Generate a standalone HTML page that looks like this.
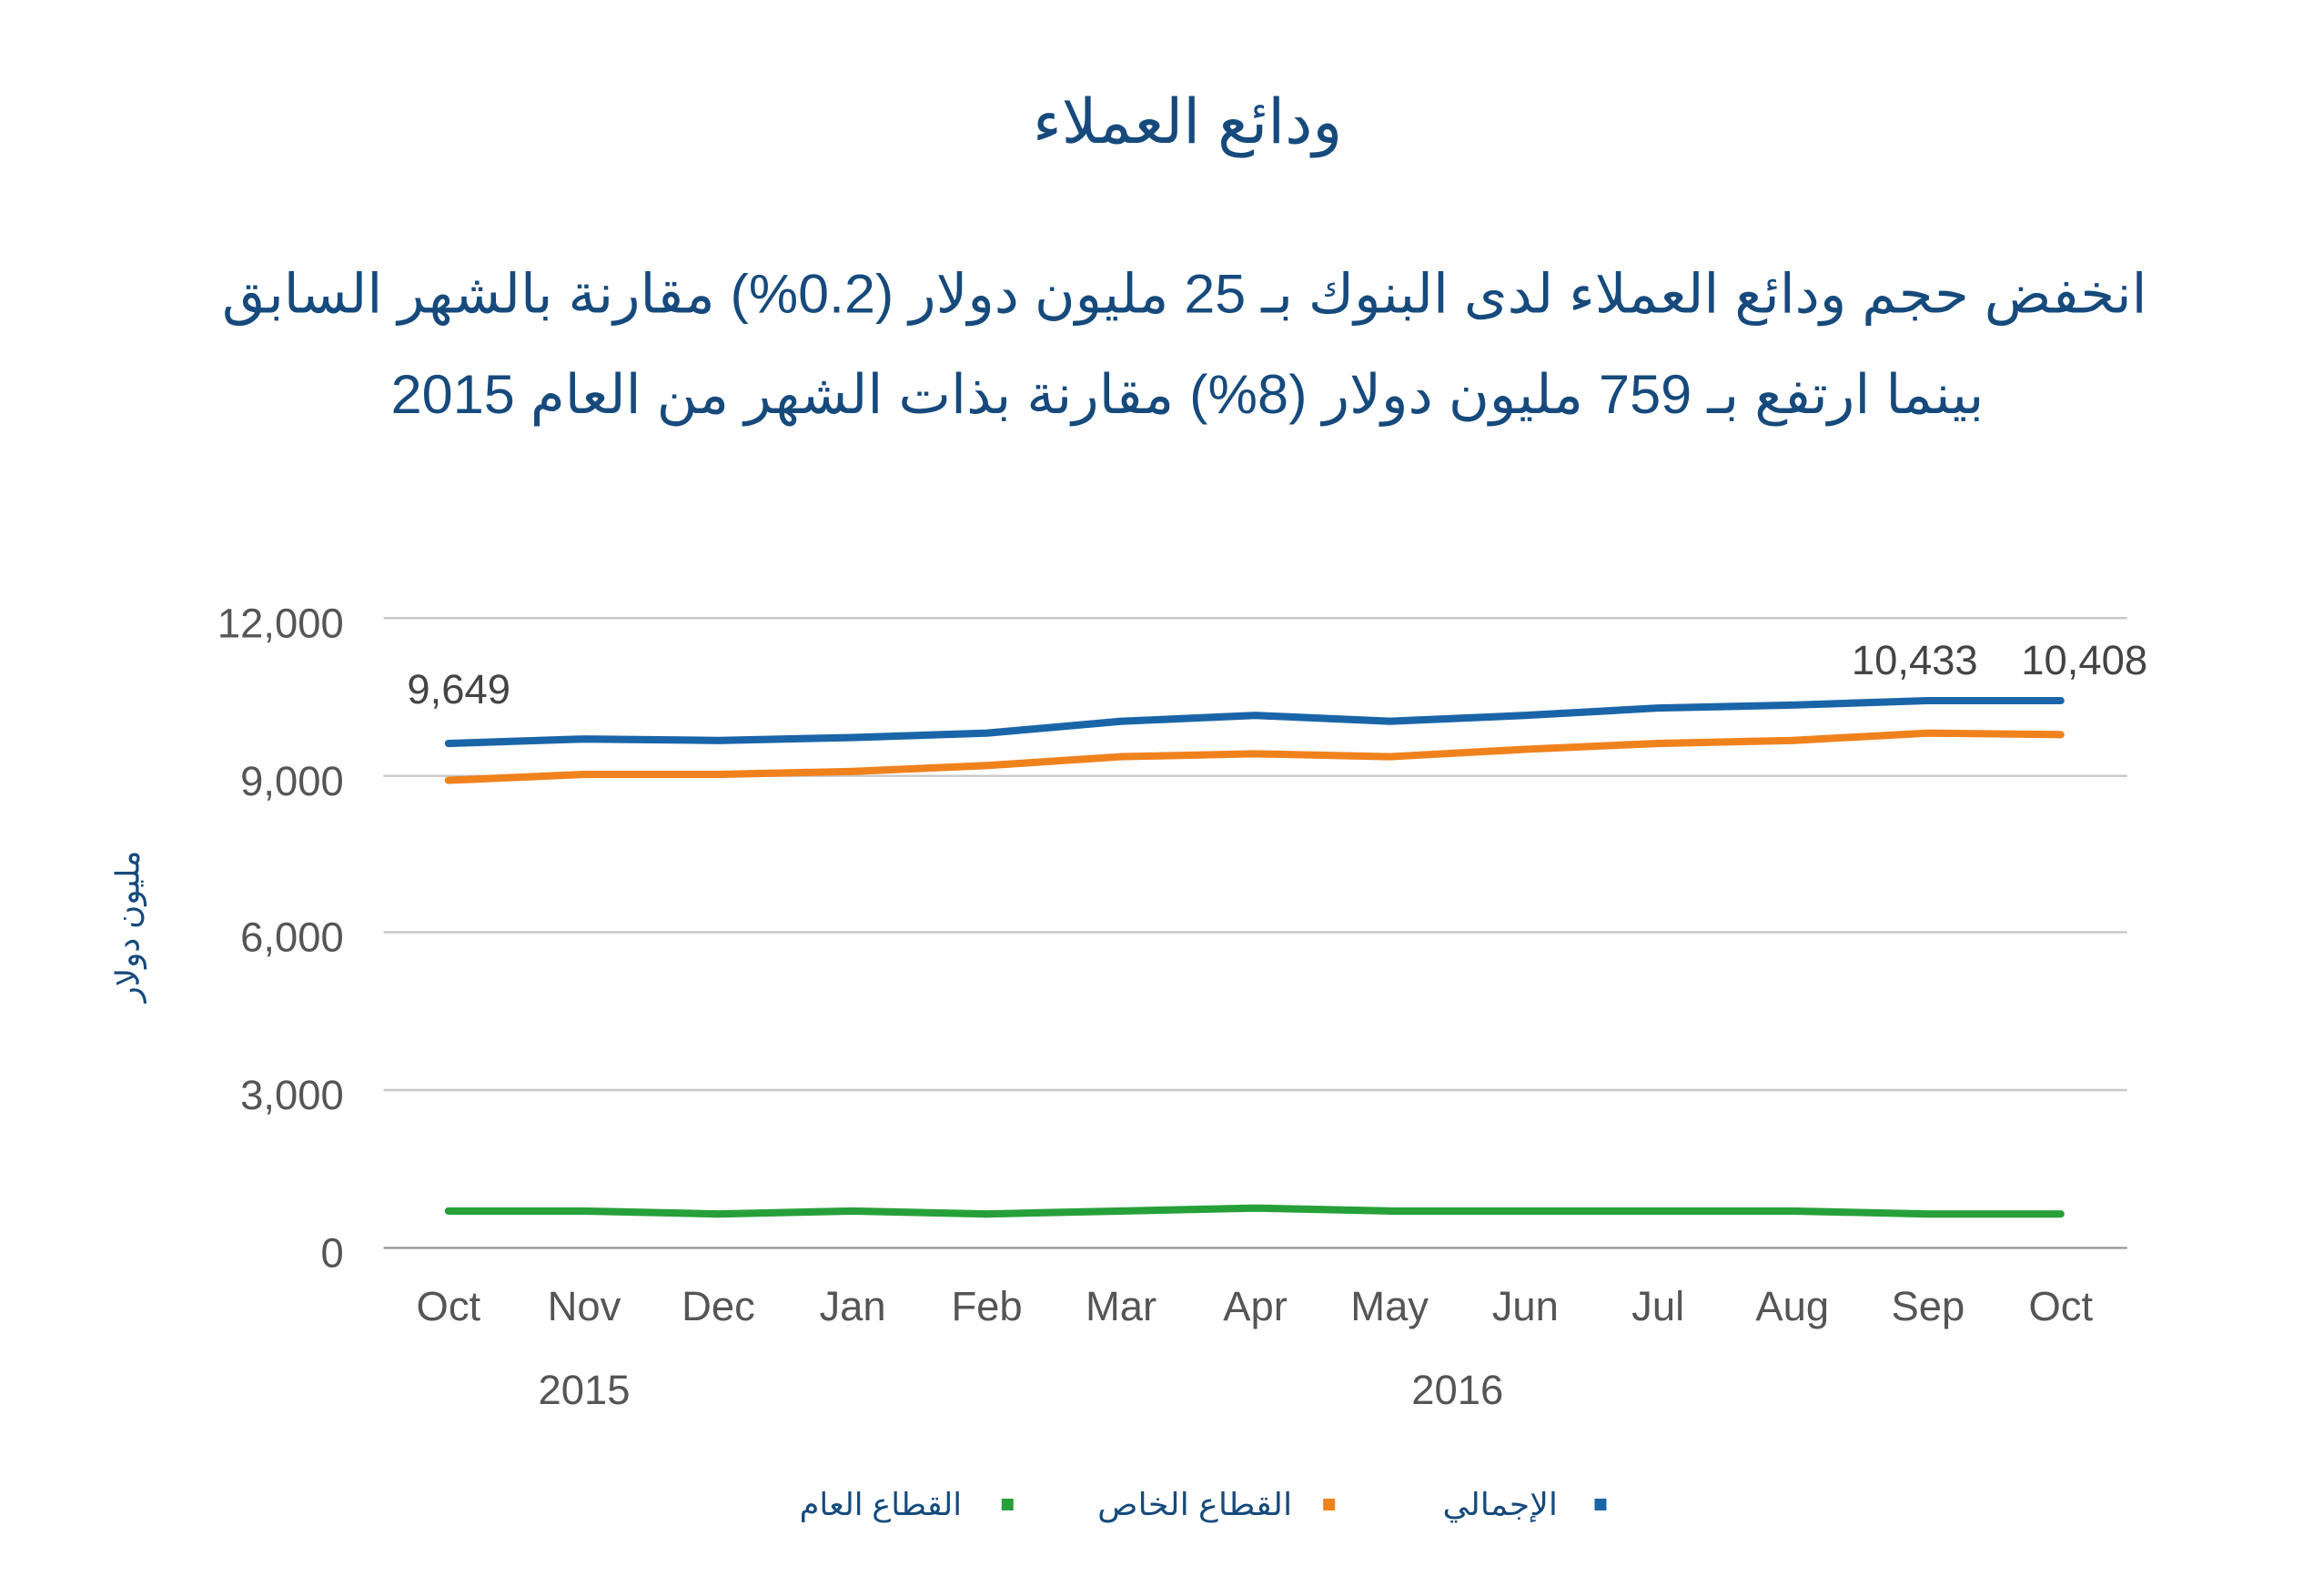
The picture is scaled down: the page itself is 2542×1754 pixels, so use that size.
<!DOCTYPE html>
<html><head><meta charset="utf-8"><style>
html,body{margin:0;padding:0;background:#fff;}
svg{display:block;}
</style></head><body>
<svg width="2542" height="1754" viewBox="0 0 1568 1082" preserveAspectRatio="none" xmlns="http://www.w3.org/2000/svg">
<rect width="1568" height="1082" fill="#fff"/>
<g font-family="'Liberation Sans','Noto Sans CJK SC','DejaVu Sans',sans-serif" fill="#164a7c">
<text x="805" y="97" font-size="42" text-anchor="middle" direction="rtl" textLength="210" lengthAdjust="spacingAndGlyphs">ودائع العملاء</text>
<text x="803" y="212" font-size="37" text-anchor="middle" direction="rtl" textLength="1305" lengthAdjust="spacingAndGlyphs">انخفض حجم ودائع العملاء لدى البنوك بـ 25 مليون دولار (0.2%) مقارنة بالشهر السابق</text>
<text x="805" y="280" font-size="37" text-anchor="middle" direction="rtl" textLength="1080" lengthAdjust="spacingAndGlyphs">بينما ارتفع بـ 759 مليون دولار (8%) مقارنة بذات الشهر من العام 2015</text>
<text transform="translate(94,628) rotate(-90)" font-size="22" text-anchor="middle" direction="rtl">مليون دولار</text>
</g>
<g stroke="#c8c8c8" stroke-width="1.5">
<line x1="260" y1="419" x2="1442" y2="419"/>
<line x1="260" y1="526" x2="1442" y2="526"/>
<line x1="260" y1="632" x2="1442" y2="632"/>
<line x1="260" y1="739" x2="1442" y2="739"/>
<line x1="260" y1="846" x2="1442" y2="846" stroke="#999"/>
</g>
<g font-family="'Liberation Sans',sans-serif" font-size="28" fill="#555" text-anchor="end">
<text x="233" y="432">12,000</text>
<text x="233" y="539">9,000</text>
<text x="233" y="645">6,000</text>
<text x="233" y="752">3,000</text>
<text x="233" y="859">0</text>
</g>
<g font-family="'Liberation Sans',sans-serif" font-size="28" fill="#555" text-anchor="middle">
<text x="304" y="895">Oct</text><text x="396" y="895">Nov</text><text x="487" y="895">Dec</text>
<text x="578" y="895">Jan</text><text x="669" y="895">Feb</text><text x="760" y="895">Mar</text>
<text x="851" y="895">Apr</text><text x="942" y="895">May</text><text x="1034" y="895">Jun</text>
<text x="1124" y="895">Jul</text><text x="1215" y="895">Aug</text><text x="1307" y="895">Sep</text>
<text x="1397" y="895">Oct</text>
<text x="396" y="952">2015</text><text x="988" y="952">2016</text>
<text x="311" y="477" fill="#444">9,649</text>
<text x="1298" y="457" fill="#444">10,433</text>
<text x="1413" y="457" fill="#444">10,408</text>
</g>
<g fill="none" stroke-width="5" stroke-linejoin="round" stroke-linecap="round">
<polyline stroke="#27a03a" points="304,821 396,821 487,823 578,821 669,823 760,821 851,819 942,821 1034,821 1124,821 1215,821 1307,823 1397,823"/>
<polyline stroke="#f0821e" points="304,529 396,525 487,525 578,523 669,519 760,513 851,511 942,513 1034,508 1124,504 1215,502 1307,497 1397,498"/>
<polyline stroke="#1a65a8" points="304,504 396,501 487,502 578,500 669,497 760,489 851,485 942,489 1034,485 1124,480 1215,478 1307,475 1397,475"/>
</g>
<rect x="1081" y="1016" width="8" height="8" fill="#1a65a8"/>
<rect x="897" y="1016" width="8" height="8" fill="#f0821e"/>
<rect x="679" y="1016" width="8" height="8" fill="#27a03a"/>
<g font-family="'Liberation Sans','DejaVu Sans',sans-serif" font-size="21" fill="#164a7c" text-anchor="end">
<text x="1056" y="1027" textLength="78" lengthAdjust="spacingAndGlyphs">‏الإجمالي‏</text>
<text x="876" y="1027" textLength="132" lengthAdjust="spacingAndGlyphs">‏القطاع الخاص‏</text>
<text x="652" y="1027" textLength="110" lengthAdjust="spacingAndGlyphs">‏القطاع العام‏</text>
</g>
</svg>
</body></html>
